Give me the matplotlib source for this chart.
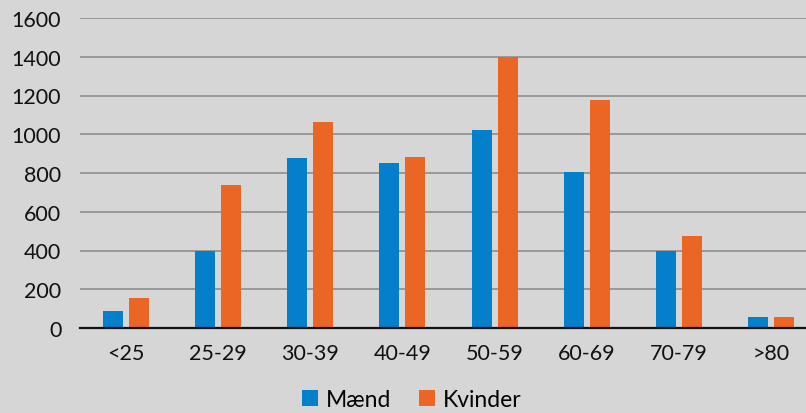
import numpy as np
import matplotlib.pyplot as plt

# Data
categories = ['<25', '25-29', '30-39', '40-49', '50-59', '60-69', '70-79', '>80']
maend = [90, 400, 875, 850, 1020, 805, 400, 57]
kvinder = [155, 740, 1063, 885, 1400, 1177, 475, 57]
yticks = [0, 200, 400, 600, 800, 1000, 1200, 1400, 1600]

plt.rcParams['font.family'] = ['Lato', 'DejaVu Sans']

fig = plt.figure(figsize=(8.06, 4.14), dpi=100, facecolor='#d6d6d6')
# axes run a little past the right edge, like in the original
ax = fig.add_axes([80 / 806, 1 - 329 / 414, 737 / 806, 310 / 414])
ax.set_facecolor('#d6d6d6')

x = np.arange(len(categories))
w = 0.217
ax.bar(x - 0.141, maend, width=w, color='#0480CB', label='Mænd', zorder=3)
ax.bar(x + 0.141, kvinder, width=w, color='#EB6625', label='Kvinder', zorder=3)

ax.set_xlim(-0.5, len(categories) - 0.5)
ax.set_ylim(0, 1600)
ax.set_yticks(yticks)
ax.set_xticks(x)
ax.set_xticklabels(categories)
ax.tick_params(axis='both', length=0, labelsize=15.5, colors='#111111')
ax.tick_params(axis='y', pad=13.5)
ax.tick_params(axis='x', pad=11)
ax.yaxis.grid(True, color='#8f8f8f', linewidth=1.2, zorder=0)

for s in ['top', 'right', 'left']:
    ax.spines[s].set_visible(False)
ax.spines['bottom'].set_color('#111111')
ax.spines['bottom'].set_linewidth(1.6)
ax.spines['bottom'].set_zorder(4)

fig.legend(loc='lower center', bbox_to_anchor=(412 / 806, -0.042), ncol=2,
           frameon=False, fontsize=16.5, handlelength=0.7, handleheight=0.7,
           handletextpad=0.35, columnspacing=1.2)

plt.savefig('out.png', dpi=100, facecolor=fig.get_facecolor())
